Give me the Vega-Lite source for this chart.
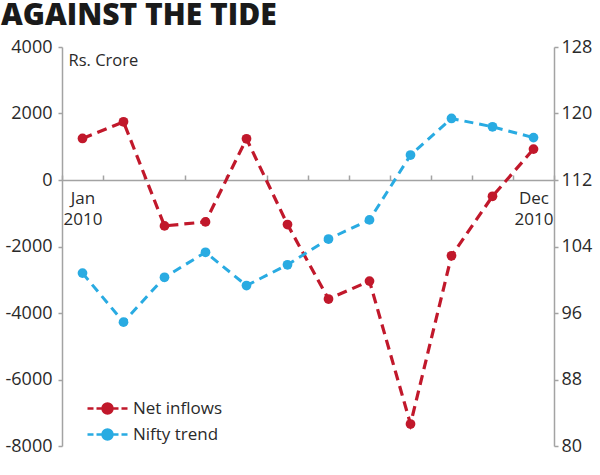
{
  "$schema": "https://vega.github.io/schema/vega-lite/v6.json",
  "width": 492,
  "height": 399,
  "autosize": "none",
  "padding": {"left": 62, "top": 47, "right": 46, "bottom": 29},
  "background": "white",
  "datasets": {
    "inflows": [
      {"month": "Jan", "series": "Net inflows", "value": 1250},
      {"month": "Feb", "series": "Net inflows", "value": 1750},
      {"month": "Mar", "series": "Net inflows", "value": -1380},
      {"month": "Apr", "series": "Net inflows", "value": -1260},
      {"month": "May", "series": "Net inflows", "value": 1240},
      {"month": "Jun", "series": "Net inflows", "value": -1340},
      {"month": "Jul", "series": "Net inflows", "value": -3580},
      {"month": "Aug", "series": "Net inflows", "value": -3040},
      {"month": "Sep", "series": "Net inflows", "value": -7340},
      {"month": "Oct", "series": "Net inflows", "value": -2280},
      {"month": "Nov", "series": "Net inflows", "value": -490},
      {"month": "Dec", "series": "Net inflows", "value": 930}
    ],
    "nifty": [
      {"month": "Jan", "series": "Nifty trend", "value": 100.8},
      {"month": "Feb", "series": "Nifty trend", "value": 94.9},
      {"month": "Mar", "series": "Nifty trend", "value": 100.3},
      {"month": "Apr", "series": "Nifty trend", "value": 103.3},
      {"month": "May", "series": "Nifty trend", "value": 99.3},
      {"month": "Jun", "series": "Nifty trend", "value": 101.8},
      {"month": "Jul", "series": "Nifty trend", "value": 104.9},
      {"month": "Aug", "series": "Nifty trend", "value": 107.2},
      {"month": "Sep", "series": "Nifty trend", "value": 115.0},
      {"month": "Oct", "series": "Nifty trend", "value": 119.4},
      {"month": "Nov", "series": "Nifty trend", "value": 118.4},
      {"month": "Dec", "series": "Nifty trend", "value": 117.1}
    ]
  },
  "title": {
    "text": "AGAINST THE TIDE",
    "anchor": "start",
    "frame": "group",
    "font": "Open Sans",
    "fontSize": 30,
    "fontWeight": 800,
    "color": "#1a1a1a",
    "baseline": "alphabetic",
    "offset": 12,
    "dx": -61,
    "dy": 29
  },
  "config": {
    "view": {"stroke": null},
    "font": "Open Sans",
    "axis": {
      "grid": false,
      "domainColor": "#a3a3a3",
      "domainWidth": 1.5,
      "tickColor": "#a3a3a3",
      "tickWidth": 1.5,
      "tickSize": 4,
      "labelFont": "Open Sans",
      "labelFontSize": 18,
      "labelColor": "#2a2a2a"
    },
    "legend": {
      "orient": "none",
      "legendX": 34,
      "legendY": 350,
      "title": null,
      "labelFont": "Open Sans",
      "labelFontSize": 17,
      "labelColor": "#2a2a2a",
      "labelOffset": 14,
      "symbolSize": 400,
      "symbolStrokeWidth": 2.5,
      "rowPadding": 4,
      "symbolType": "M-2,0H-1.4M-1.1,0H-0.5M0.5,0H1.1M1.4,0H2M-0.5,0A0.5,0.5,0,1,1,0.5,0A0.5,0.5,0,1,1,-0.5,0Z"
    }
  },
  "encoding": {
    "x": {
      "field": "month",
      "type": "nominal",
      "sort": null,
      "bandPosition": 0.5,
      "scale": {"type": "band", "paddingInner": 0, "paddingOuter": 0},
      "axis": {
        "orient": "top",
        "offset": -133,
        "title": null,
        "tickBand": "extent",
        "tickSize": 5,
        "labelAngle": 0,
        "labelBaseline": "top",
        "labelPadding": -15,
        "labelLineHeight": 21,
        "labelFontSize": 17,
        "labelExpr": "datum.value == 'Jan' ? ['Jan', '2010'] : datum.value == 'Dec' ? ['Dec', '2010'] : ''"
      }
    },
    "color": {
      "field": "series",
      "type": "nominal",
      "scale": {"domain": ["Net inflows", "Nifty trend"], "range": ["#c1182b", "#29abe2"]},
      "legend": {
        "encode": {
          "symbols": {
            "update": {
              "fill": {"scale": "color", "field": "value"},
              "stroke": {"scale": "color", "field": "value"},
              "strokeDash": {"value": []},
              "opacity": {"value": 1}
            }
          }
        }
      }
    }
  },
  "layer": [
    {
      "data": {"name": "inflows"},
      "encoding": {
        "y": {
          "field": "value",
          "type": "quantitative",
          "scale": {"domain": [-8000, 4000], "nice": false, "zero": false},
          "axis": {
            "orient": "left",
            "values": [-8000, -6000, -4000, -2000, 0, 2000, 4000],
            "labelExpr": "'' + datum.value",
            "labelPadding": 6,
            "title": "Rs. Crore",
            "titleAngle": 0,
            "titleX": 6,
            "titleY": 5,
            "titleAlign": "left",
            "titleBaseline": "top",
            "titleFont": "Open Sans",
            "titleFontSize": 16.5,
            "titleFontWeight": "normal",
            "titleColor": "#2a2a2a"
          }
        }
      },
      "layer": [
        {"mark": {"type": "line", "strokeWidth": 3.2, "strokeDash": [10, 6]}},
        {"mark": {"type": "point", "filled": true, "size": 95, "opacity": 1}}
      ]
    },
    {
      "data": {"name": "nifty"},
      "encoding": {
        "y": {
          "field": "value",
          "type": "quantitative",
          "scale": {"domain": [80, 128], "nice": false, "zero": false},
          "axis": {
            "orient": "right",
            "values": [80, 88, 96, 104, 112, 120, 128],
            "labelPadding": 3,
            "title": null
          }
        }
      },
      "layer": [
        {"mark": {"type": "line", "strokeWidth": 3, "strokeDash": [9, 6]}},
        {"mark": {"type": "point", "filled": true, "size": 95, "opacity": 1}}
      ]
    }
  ],
  "resolve": {"scale": {"y": "independent"}}
}
